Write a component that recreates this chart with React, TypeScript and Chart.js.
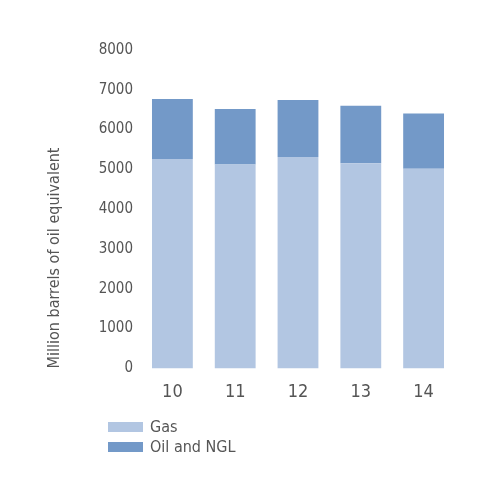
import React, { MutableRefObject, useEffect, useRef } from 'react';
import { Chart, registerables } from 'chart.js';

Chart.register(...registerables);

const years = ['10', '11', '12', '13', '14'];
const gas = [5260, 5126, 5311, 5152, 5015];
const oilAndNgl = [1508, 1389, 1431, 1446, 1389];

const gasColor = '#b2c6e2';
const oilColor = '#7399c8';
const textColor = '#555555';
const fontFamily = "'Liberation Sans Narrow', 'DejaVu Sans Condensed', Roboto, sans-serif";

const App: React.FC = () => {
  const canvasRef = useRef() as MutableRefObject<HTMLCanvasElement | null>;

  useEffect(() => {
    document.body.style.margin = '0';
    let chart: any = null;
    if (canvasRef.current) {
      chart = new Chart(canvasRef.current, {
        type: 'bar',
        data: {
          labels: years,
          datasets: [
            { label: 'Gas', data: gas, backgroundColor: gasColor },
            { label: 'Oil and NGL', data: oilAndNgl, backgroundColor: oilColor },
          ],
        },
        options: {
          animation: false,
          responsive: true,
          maintainAspectRatio: false,
          layout: { padding: { left: 41, right: 45, top: 50, bottom: 8 } },
          plugins: {
            legend: { display: false },
            title: { display: false },
            tooltip: { enabled: false },
          },
          datasets: {
            bar: { barPercentage: 0.65, categoryPercentage: 1 },
          },
          scales: {
            x: {
              stacked: true,
              border: { display: false },
              grid: { display: false, drawTicks: false },
              ticks: {
                color: textColor,
                padding: 13,
                font: { family: fontFamily, size: 18 },
              },
            },
            y: {
              stacked: true,
              min: 0,
              max: 8000,
              border: { display: false },
              grid: { display: false, drawTicks: false },
              ticks: {
                stepSize: 1000,
                color: textColor,
                padding: 8,
                font: { family: fontFamily, size: 15 },
                callback: (v: any) => String(v),
              },
              title: {
                display: true,
                text: 'Million barrels of oil equivalent',
                align: 'start',
                color: textColor,
                font: { family: fontFamily, size: 16 },
              },
              afterFit: (scale: any) => {
                scale.width = 100;
              },
            },
          },
        },
      } as any);
    }
    return () => {
      if (chart) {
        chart.destroy();
      }
    };
  }, []);

  const legendItem = (color: string, label: string, top: number) => (
    <div style={{ position: 'absolute', left: 108, top, display: 'flex', alignItems: 'center' }}>
      <div style={{ width: 35, height: 10, background: color, marginRight: 7 }} />
      <span style={{ fontFamily, fontSize: 16, color: textColor, lineHeight: '20px' }}>{label}</span>
    </div>
  );

  return (
    <div style={{ position: 'relative', width: 500, height: 500, background: '#fff' }}>
      <div style={{ height: 424, width: 500 }}>
        <canvas ref={canvasRef} />
      </div>
      {legendItem(gasColor, 'Gas', 417)}
      {legendItem(oilColor, 'Oil and NGL', 437)}
    </div>
  );
};

export default App;
